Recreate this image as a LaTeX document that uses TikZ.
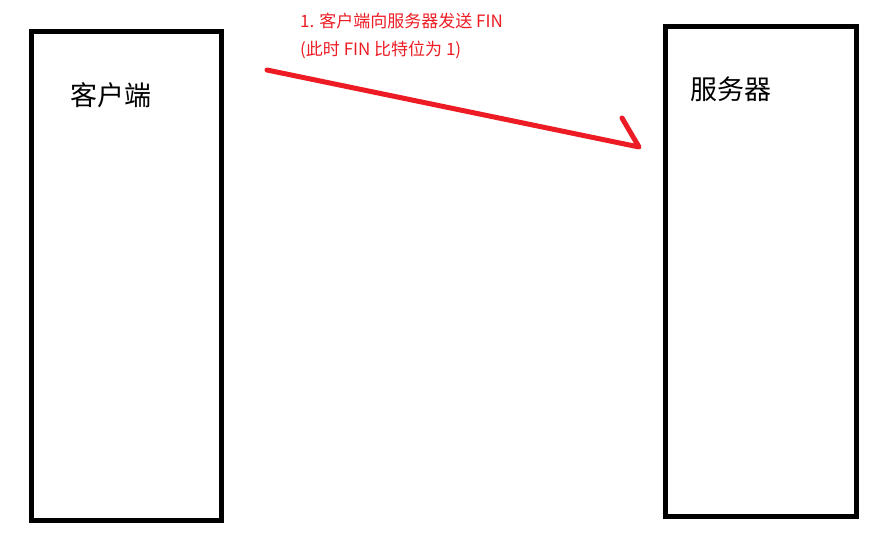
\documentclass[tikz,border=0pt]{standalone}
\usepackage{fontspec}
\setmainfont{Noto Sans CJK SC}
\definecolor{paintred}{RGB}{237,28,36}
\begin{document}
\begin{tikzpicture}[x=1pt, y=-1pt]
            \tikzstyle{host} = [draw=black, line width=5pt, minimum width=190pt, minimum height=489pt, inner sep=0pt]
            \tikzstyle{hostname} = [anchor=west, inner sep=0pt, font=\fontsize{27}{31}\selectfont]
            \tikzstyle{note} = [anchor=west, inner sep=0pt, text=paintred, font=\fontsize{17}{21}\selectfont]
            \tikzstyle{stroke} = [draw=paintred, line width=5pt, line cap=round, line join=round]
            \useasboundingbox (0, 0) rectangle (873, 544);
            \node[host] (client) at (126.75, 275.5) {};
            \node[host, minimum width=191pt, minimum height=490pt] (server) at (761, 271.5) {};
            \node[hostname] (clientname) at (70, 95) {客户端};
            \node[hostname] (servername) at (690, 89) {服务器};
            \node[note] (line1) at (300, 21) {1. 客户端向服务器发送 FIN};
            \node[note] (line2) at (300, 50) {(此时 FIN 比特位为 1)};
            \coordinate (finstart) at (267, 70);
            \coordinate (finend) at (639, 147);
            \coordinate (finhead) at (622, 118);
            \draw[stroke] (finstart) -- (finend) -- (finhead);
        \end{tikzpicture}
\end{document}
